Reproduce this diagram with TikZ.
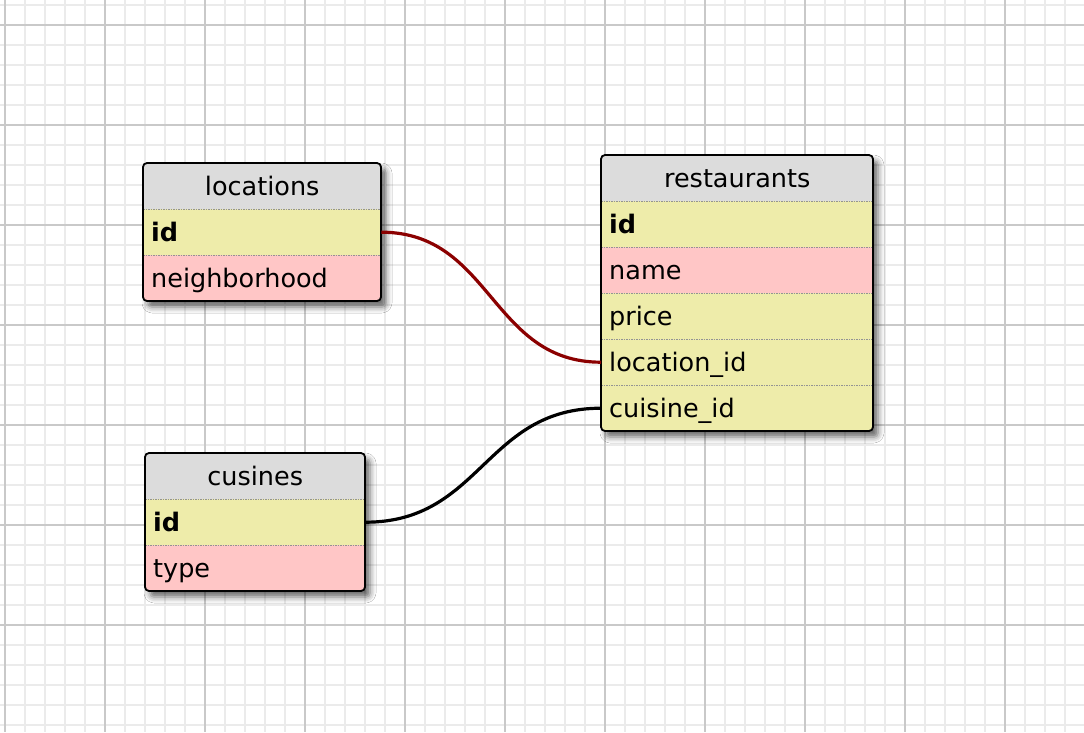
\documentclass[tikz,border=0pt]{standalone}
\usepackage{fontspec}
\setmainfont{DejaVu Sans}
\usetikzlibrary{shadows.blur}
\definecolor{gridminor}{HTML}{EBEBEB}
\definecolor{gridmajor}{HTML}{C9C9C9}
\definecolor{headgray}{HTML}{DCDCDC}
\definecolor{keyyellow}{HTML}{EEECAA}
\definecolor{fieldpink}{HTML}{FFC6C6}
\definecolor{linkred}{HTML}{8B0000}
\newcommand\tabfont{\fontsize{25.5}{30}\selectfont}
\tikzset{
  tabhead/.style={fill=headgray, minimum height=46pt, inner sep=0pt, anchor=north west,
    text height=20pt, text depth=1pt, font=\tabfont},
  tabrow/.style={minimum height=46pt, inner xsep=8pt, inner ysep=0pt, anchor=north west,
    align=left, text height=20pt, text depth=1pt, font=\tabfont},
  tabshadow/.style={fill=white, rounded corners=4pt,
    blur shadow={shadow xshift=5pt, shadow yshift=-6pt, shadow blur radius=6pt, shadow opacity=60}},
  tabframe/.style={line width=1.8pt, rounded corners=4pt},
  sepline/.style={gray!85, densely dotted, line width=1.5pt},
  link/.style={line width=3.2pt},
}
\begin{document}
\begin{tikzpicture}[x=1pt, y=-1pt]
\useasboundingbox (0,0) rectangle (1084,732);
\fill[white] (0,0) rectangle (1084,732);
% grid
\foreach \gx in {5,25,...,1085} \draw[gridminor, line width=1.8pt] (\gx,0) -- (\gx,732);
\foreach \gy in {5,25,...,725} \draw[gridminor, line width=1.8pt] (0,\gy) -- (1084,\gy);
\foreach \gx in {5,105,...,1005} \draw[gridmajor, line width=1.8pt] (\gx,0) -- (\gx,732);
\foreach \gy in {25,125,...,625} \draw[gridmajor, line width=1.8pt] (0,\gy) -- (1084,\gy);

% locations
\fill[tabshadow] (143,163) rectangle (381,301);
\begin{scope}
  \clip[rounded corners=4pt] (143,163) rectangle (381,301);
  \node[tabhead, minimum width=238pt] (loc-head) at (143,163) {locations};
  \node[tabrow, text width=222pt, fill=keyyellow] (loc-id) at (143,209) {\bfseries id};
  \node[tabrow, text width=222pt, fill=fieldpink] (loc-hood) at (143,255) {neighborhood};
\end{scope}
\draw[sepline] (loc-head.south west) -- (loc-head.south east);
\draw[sepline] (loc-id.south west) -- (loc-id.south east);
\draw[tabframe] (143,163) rectangle (381,301);

% cusines
\fill[tabshadow] (145,453) rectangle (365,591);
\begin{scope}
  \clip[rounded corners=4pt] (145,453) rectangle (365,591);
  \node[tabhead, minimum width=220pt] (cus-head) at (145,453) {cusines};
  \node[tabrow, text width=204pt, fill=keyyellow] (cus-id) at (145,499) {\bfseries id};
  \node[tabrow, text width=204pt, fill=fieldpink] (cus-type) at (145,545) {type};
\end{scope}
\draw[sepline] (cus-head.south west) -- (cus-head.south east);
\draw[sepline] (cus-id.south west) -- (cus-id.south east);
\draw[tabframe] (145,453) rectangle (365,591);

% restaurants
\fill[tabshadow] (601,155) rectangle (873,431);
\begin{scope}
  \clip[rounded corners=4pt] (601,155) rectangle (873,431);
  \node[tabhead, minimum width=272pt] (rest-head) at (601,155) {restaurants};
  \node[tabrow, text width=256pt, fill=keyyellow] (rest-id) at (601,201) {\bfseries id};
  \node[tabrow, text width=256pt, fill=fieldpink] (rest-name) at (601,247) {name};
  \node[tabrow, text width=256pt, fill=keyyellow] (rest-price) at (601,293) {price};
  \node[tabrow, text width=256pt, fill=keyyellow] (rest-locid) at (601,339) {location\_id};
  \node[tabrow, text width=256pt, fill=keyyellow] (rest-cuisid) at (601,385) {cuisine\_id};
\end{scope}
\foreach \r in {head,id,name,price,locid}
  \draw[sepline] (rest-\r.south west) -- (rest-\r.south east);
\draw[tabframe] (601,155) rectangle (873,431);

% links
\draw[link, linkred] (loc-id.east) .. controls +(110,0) and +(-110,0) .. (rest-locid.west);
\draw[link] (cus-id.east) .. controls +(116,0) and +(-116,0) .. (rest-cuisid.west);
\end{tikzpicture}
\end{document}
